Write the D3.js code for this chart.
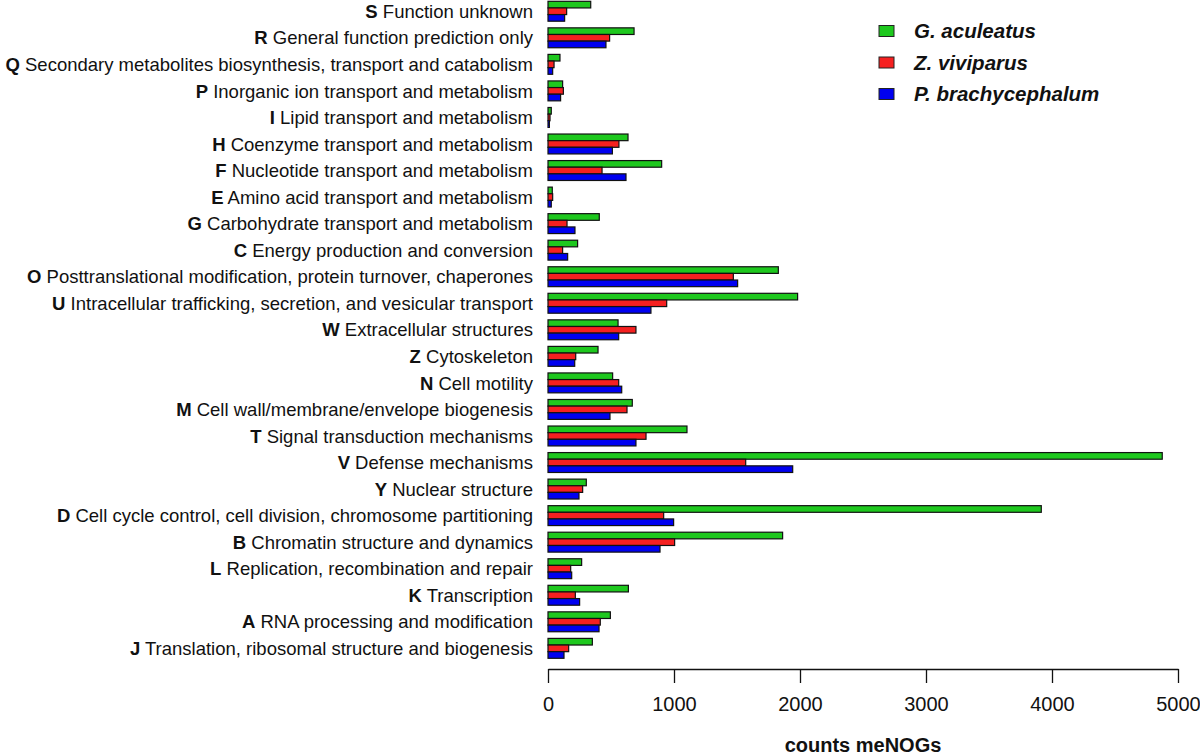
<!DOCTYPE html>
<html>
<head>
<meta charset="utf-8">
<script src="https://cdn.jsdelivr.net/npm/d3@7"></script>
<style>
  html, body { margin: 0; padding: 0; background: #fff; }
  svg { display: block; font-family: "Liberation Sans", Arial, Helvetica, sans-serif; }
</style>
</head>
<body>
<svg id="chart" width="1200" height="756"></svg>
<script>
// ---- data (top to bottom) ----
const codes = ["S","R","Q","P","I","H","F","E","G","C","O","U","W","Z","N","M","T","V","Y","D","B","L","K","A","J"];
const descriptions = [
  "Function unknown",
  "General function prediction only",
  "Secondary metabolites biosynthesis, transport and catabolism",
  "Inorganic ion transport and metabolism",
  "Lipid transport and metabolism",
  "Coenzyme transport and metabolism",
  "Nucleotide transport and metabolism",
  "Amino acid transport and metabolism",
  "Carbohydrate transport and metabolism",
  "Energy production and conversion",
  "Posttranslational modification, protein turnover, chaperones",
  "Intracellular trafficking, secretion, and vesicular transport",
  "Extracellular structures",
  "Cytoskeleton",
  "Cell motility",
  "Cell wall/membrane/envelope biogenesis",
  "Signal transduction mechanisms",
  "Defense mechanisms",
  "Nuclear structure",
  "Cell cycle control, cell division, chromosome partitioning",
  "Chromatin structure and dynamics",
  "Replication, recombination and repair",
  "Transcription",
  "RNA processing and modification",
  "Translation, ribosomal structure and biogenesis"
];
const seriesNames = ["G. aculeatus", "Z. viviparus", "P. brachycephalum"];
const gAculeatus      = [339, 683, 95, 116, 26, 635, 902, 34, 407, 235, 1828, 1981, 556, 397, 513, 669, 1103, 4875, 304, 3915, 1862, 267, 638, 495, 352];
const zViviparus      = [148, 489, 48, 122, 16, 563, 429, 37, 151, 116, 1471, 942, 698, 220, 561, 627, 778, 1569, 275, 918, 1005, 180, 217, 415, 164];
const pBrachycephalum = [132, 460, 37, 100, 11, 511, 619, 26, 214, 156, 1505, 817, 561, 212, 585, 492, 698, 1942, 246, 997, 889, 188, 251, 405, 127];
const xTicks = [0, 1000, 2000, 3000, 4000, 5000];
const colors = ["#1ec81e", "#f52020", "#0000f0"];

const seriesValues = [gAculeatus, zViviparus, pBrachycephalum];
const rows = codes.map((c, i) => ({
  code: c, desc: descriptions[i],
  values: seriesValues.map((s, k) => ({ k, v: s[i] }))
}));

const svg = d3.select("#chart");

const x = d3.scaleLinear().domain([0, 5000]).range([548, 1178]);
const y = d3.scaleBand().domain(codes).range([1.3, 658.3]).paddingInner(0.25).paddingOuter(0);
const yi = d3.scaleBand().domain([0, 1, 2]).range([0, y.bandwidth()]);

// bars
const groups = svg.append("g").selectAll("g").data(rows).join("g")
  .attr("transform", d => `translate(0,${y(d.code)})`);
groups.selectAll("rect").data(d => d.values).join("rect")
  .attr("x", x(0))
  .attr("y", d => yi(d.k))
  .attr("width", d => x(d.v) - x(0))
  .attr("height", yi.bandwidth())
  .attr("fill", d => colors[d.k])
  .attr("stroke", "#111")
  .attr("stroke-width", 1.2);

// category labels
const labels = svg.append("g").selectAll("text").data(rows).join("text")
  .attr("x", 533)
  .attr("y", d => y(d.code) + y.bandwidth() / 2)
  .attr("dy", "0.36em")
  .attr("text-anchor", "end")
  .attr("font-size", 18.5)
  .attr("fill", "#111");
labels.append("tspan").attr("font-weight", "bold").text(d => d.code);
labels.append("tspan").text(d => " " + d.desc);

// x axis
const axis = svg.append("g")
  .attr("transform", "translate(0,669)")
  .call(d3.axisBottom(x).tickValues(xTicks).tickFormat(d3.format("d")).tickSize(14).tickSizeOuter(0).tickPadding(14));
axis.selectAll("path, line").attr("stroke", "#111").attr("stroke-width", 1.3);
axis.selectAll("text").attr("font-size", 20).attr("fill", "#111")
  .attr("font-family", "'Liberation Sans', Arial, sans-serif");

svg.append("text")
  .attr("x", (x(0) + x(5000)) / 2)
  .attr("y", 752)
  .attr("text-anchor", "middle")
  .attr("font-size", 20)
  .attr("font-weight", "bold")
  .attr("fill", "#111")
  .text("counts meNOGs");

// legend
const legend = svg.append("g").selectAll("g").data(seriesNames).join("g")
  .attr("transform", (d, i) => `translate(879,${31 + i * 31.5})`);
legend.append("rect")
  .attr("x", 0).attr("y", -5.5).attr("width", 15).attr("height", 11)
  .attr("fill", (d, i) => colors[i]).attr("stroke", "#222").attr("stroke-width", 1);
legend.append("text")
  .attr("x", 35).attr("y", 0).attr("dy", "0.36em")
  .attr("font-size", 20.5).attr("font-weight", "bold").attr("font-style", "italic")
  .attr("fill", "#111")
  .text(d => d);
</script>
</body>
</html>
